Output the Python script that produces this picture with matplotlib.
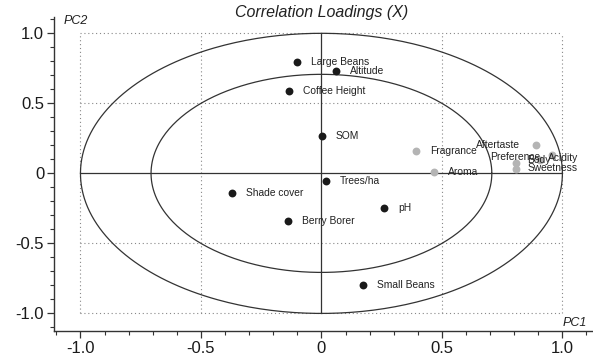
import numpy as np
import matplotlib
matplotlib.use("Agg")
import matplotlib.pyplot as plt
from matplotlib.ticker import MultipleLocator

plt.rcParams['font.family'] = ['Liberation Sans', 'DejaVu Sans']

# X variables (black)
x_names = ['Large Beans', 'Altitude', 'Coffee Height', 'SOM', 'Trees/ha',
           'Shade cover', 'pH', 'Berry Borer', 'Small Beans']
x_pc1 = [-0.10, 0.06, -0.135, 0.003, 0.019, -0.372, 0.26, -0.137, 0.173]
x_pc2 = [0.794, 0.732, 0.589, 0.268, -0.058, -0.137, -0.244, -0.339, -0.80]

# Y variables (grey)
y_names = ['Fragrance', 'Aroma', 'Aftertaste', 'Preference', 'Body',
           'Acidity', 'Sweetness']
y_pc1 = [0.394, 0.467, 0.891, 0.958, 0.808, 0.905, 0.808]
y_pc2 = [0.163, 0.013, 0.199, 0.132, 0.073, 0.092, 0.030]

# label offsets in points (the crowded ones are shifted by hand)
x_offsets = [(10, 0)] * len(x_names)
y_offsets = [(10, 0), (10, 0), (-43, 0), (-45, -1.5), (8, 2), (6, 2), (8, 1)]

fig = plt.figure(figsize=(5.93, 3.57), dpi=100)
ax = fig.add_axes([0.091, 0.073, 0.909, 0.88])

# ellipses (100% and 50% explained variance)
t = np.linspace(0, 2 * np.pi, 400)
for r in [1.0, np.sqrt(0.5)]:
    ax.plot(r * np.cos(t), r * np.sin(t), color='#333333', lw=0.9, zorder=2)

# dotted guide lines
for v in [-1.0, -0.5, 0.5, 1.0]:
    ax.plot([v, v], [-1, 1], color='#888888', lw=0.8, ls=(0, (1, 2.5)), zorder=1)
    ax.plot([-1, 1], [v, v], color='#888888', lw=0.8, ls=(0, (1, 2.5)), zorder=1)
ax.plot([-1, 1], [0, 0], color='#333333', lw=0.9, zorder=2)
ax.plot([0, 0], [-1, 1], color='#333333', lw=0.9, zorder=2)

ax.scatter(x_pc1, x_pc2, s=32, color='#1a1a1a', zorder=3, linewidths=0)
ax.scatter(y_pc1, y_pc2, s=32, color='#b4b4b4', zorder=3, linewidths=0)

for name, px, py, off in zip(x_names, x_pc1, x_pc2, x_offsets):
    ax.annotate(name, (px, py), xytext=off, textcoords='offset points',
                va='center', ha='left', fontsize=7.4, color='#222222', zorder=4)
for name, px, py, off in zip(y_names, y_pc1, y_pc2, y_offsets):
    ax.annotate(name, (px, py), xytext=off, textcoords='offset points',
                va='center', ha='left', fontsize=7.4, color='#222222', zorder=4)

ax.set_xlim(-1.11, 1.127)
ax.set_ylim(-1.125, 1.118)

for s in ['top', 'right']:
    ax.spines[s].set_visible(False)
for s in ['left', 'bottom']:
    ax.spines[s].set_color('#333333')
    ax.spines[s].set_linewidth(1.0)

ax.xaxis.set_minor_locator(MultipleLocator(0.1))
ax.yaxis.set_minor_locator(MultipleLocator(0.1))
ticks = [-1.0, -0.5, 0, 0.5, 1.0]
labels = ['-1.0', '-0.5', '0', '0.5', '1.0']
ax.set_xticks(ticks)
ax.set_xticklabels(labels)
ax.set_yticks(ticks)
ax.set_yticklabels(labels)
ax.tick_params(which='major', length=5, width=0.9, color='#333333',
               labelsize=12, labelcolor='#1a1a1a', pad=2)
ax.tick_params(which='minor', length=3, width=0.8, color='#333333')

ax.text(0.0, 1.145, 'Correlation Loadings (X)', ha='center', va='center',
        fontsize=11.5, style='italic', color='#222222', clip_on=False)
ax.text(-1.07, 1.09, 'PC2', ha='left', va='center', fontsize=9,
        style='italic', color='#222222')
ax.text(1.0, -1.07, 'PC1', ha='left', va='center', fontsize=9,
        style='italic', color='#222222')

fig.savefig('out.png', dpi=100)
